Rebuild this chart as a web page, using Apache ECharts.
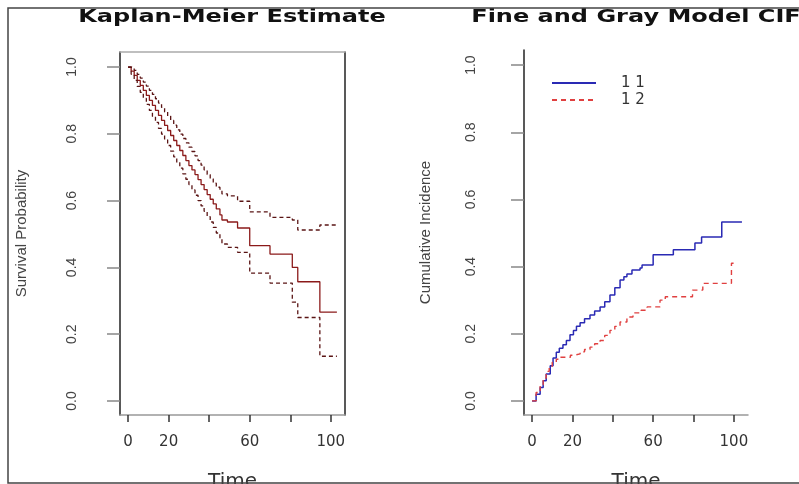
<!DOCTYPE html>
<html lang="en" style="height: 100%">
<head>
  <meta charset="utf-8">
  <title>Kaplan-Meier / Fine and Gray</title>
</head>
<body style="height: 100%; margin: 0; background: #fff">
  <div id="container" style="width: 799px; height: 484px"></div>

  <script type="text/javascript" src="https://cdn.jsdelivr.net/npm/echarts@6/dist/echarts.min.js"></script>
  <script type="text/javascript">
    // Kaplan-Meier estimate with confidence band
    var kmTime  = [0, 1.5, 3, 4.5, 6, 7.5, 9, 10.5, 12, 13.5, 15, 16.5, 18, 19.5, 21, 22.5, 24, 25.5, 27, 28.5, 30, 31.5, 33, 34.5, 36, 37.5, 39, 40.5, 42, 43.5, 45.3, 46.3, 49, 54, 60, 70, 81, 83.7, 94.6, 103];
    var kmSurv  = [1.0, 0.988, 0.975, 0.96, 0.945, 0.93, 0.915, 0.9, 0.885, 0.87, 0.855, 0.84, 0.825, 0.81, 0.795, 0.78, 0.765, 0.75, 0.735, 0.72, 0.705, 0.692, 0.678, 0.663, 0.648, 0.633, 0.618, 0.604, 0.59, 0.575, 0.557, 0.542, 0.536, 0.518, 0.465, 0.44, 0.40, 0.357, 0.266, 0.266];
    var kmUpper = [1.0, 0.998, 0.99, 0.978, 0.967, 0.955, 0.943, 0.93, 0.918, 0.905, 0.892, 0.879, 0.866, 0.853, 0.84, 0.826, 0.812, 0.799, 0.786, 0.773, 0.76, 0.747, 0.734, 0.72, 0.706, 0.692, 0.678, 0.665, 0.652, 0.64, 0.634, 0.62, 0.614, 0.598, 0.566, 0.55, 0.542, 0.512, 0.527, 0.527];
    var kmLower = [1.0, 0.978, 0.96, 0.942, 0.924, 0.906, 0.888, 0.87, 0.852, 0.834, 0.816, 0.799, 0.782, 0.765, 0.748, 0.731, 0.714, 0.697, 0.68, 0.664, 0.648, 0.632, 0.616, 0.6, 0.584, 0.568, 0.552, 0.536, 0.52, 0.503, 0.485, 0.47, 0.46, 0.445, 0.383, 0.353, 0.296, 0.25, 0.134, 0.134];

    // Fine and Gray cumulative incidence, groups "1 1" and "1 2"
    var cif1Time = [0, 2, 4, 5.5, 7, 9, 10.4, 12, 13.5, 15.3, 17, 18.8, 20.5, 22, 23.8, 26, 28.7, 31, 33.7, 36, 38.6, 41, 43.6, 45.5, 47, 49.5, 53.5, 54.5, 60, 70, 80.7, 84, 94, 104];
    var cif1Val  = [0, 0.02, 0.04, 0.06, 0.08, 0.105, 0.128, 0.145, 0.157, 0.167, 0.18, 0.197, 0.21, 0.222, 0.233, 0.245, 0.256, 0.268, 0.28, 0.295, 0.315, 0.337, 0.36, 0.37, 0.378, 0.39, 0.396, 0.405, 0.435, 0.45, 0.47, 0.488, 0.533, 0.533];
    var cif2Time = [0, 2, 4, 5.5, 7, 8.5, 10, 12, 14, 19, 21, 23.8, 26, 28.7, 31, 33.7, 36, 38.6, 41, 43.6, 47, 50, 54, 57, 63.4, 66, 79.5, 84.6, 98.8, 100];
    var cif2Val  = [0, 0.025, 0.048, 0.068, 0.088, 0.103, 0.115, 0.124, 0.13, 0.136, 0.14, 0.146, 0.153, 0.16, 0.17, 0.18, 0.195, 0.21, 0.222, 0.235, 0.25, 0.262, 0.27, 0.28, 0.30, 0.31, 0.33, 0.35, 0.41, 0.41];

    var groupNames = ['1 1', '1 2'];
    var xTicks = [0, 20, 40, 60, 80, 100];
    var xLabels = [0, 20, 60, 100];
    var yTicks = [0, 0.2, 0.4, 0.6, 0.8, 1.0];

    function pairs(t, v) {
      return t.map(function (x, i) { return [x, v[i]]; });
    }

    var dom = document.getElementById('container');
    var myChart = echarts.init(dom, null, { renderer: 'canvas' });

    function xAxisFor(grid, name) {
      return {
        type: 'value', gridIndex: grid, min: -4, max: 107,
        name: name, nameLocation: 'middle', nameGap: 57,
        nameTextStyle: { fontFamily: 'DejaVu Sans', fontSize: 20, color: '#333' },
        axisLine: { show: true, onZero: false, lineStyle: { color: '#999', width: 1.5 } },
        axisTick: { show: true, length: 7, customValues: xTicks, lineStyle: { color: '#333', width: 1.5 } },
        axisLabel: { customValues: xLabels, margin: 20, fontFamily: 'DejaVu Sans', fontSize: 15, color: '#333' },
        splitLine: { show: false }
      };
    }
    function yAxisFor(grid, name, margin) {
      return {
        type: 'value', gridIndex: grid, min: -0.042, max: 1.045,
        name: name, nameLocation: 'middle', nameRotate: 90, nameGap: 91,
        nameTextStyle: { fontFamily: 'Liberation Sans', fontSize: 15, color: '#444' },
        axisLine: { show: true, onZero: false, lineStyle: { color: '#222', width: 1.5 } },
        axisTick: { show: true, length: 13, customValues: yTicks, lineStyle: { color: '#888', width: 1.5 } },
        axisLabel: {
          customValues: yTicks, rotate: 90, margin: margin,
          fontFamily: 'Liberation Sans', fontSize: 14, color: '#444',
          formatter: function (v) { return v.toFixed(1); }
        },
        splitLine: { show: false }
      };
    }
    function frameAxis(type, grid, pos, color) {
      return {
        type: 'value', gridIndex: grid, position: pos,
        min: type === 'x' ? -4 : -0.042, max: type === 'x' ? 107 : 1.045,
        axisLine: { show: true, onZero: false, lineStyle: { color: color, width: 1.5 } },
        axisTick: { show: false }, axisLabel: { show: false }, splitLine: { show: false }
      };
    }

    var kmLine = { type: 'line', step: 'end', symbol: 'none', xAxisIndex: 0, yAxisIndex: 0 };

    var option = {
      animation: false,
      grid: [
        { left: 120, top: 52, width: 225, height: 363, outerBoundsMode: 'none' },
        { left: 524, top: 50, width: 224, height: 365, outerBoundsMode: 'none' }
      ],
      xAxis: [
        xAxisFor(0, 'Time'),
        frameAxis('x', 0, 'top', '#aaa'),
        xAxisFor(1, 'Time')
      ],
      yAxis: [
        yAxisFor(0, 'Survival Probability', 41),
        frameAxis('y', 0, 'right', '#222'),
        yAxisFor(1, 'Cumulative Incidence', 46)
      ],
      legend: {
        orient: 'vertical', left: 551, top: 75, padding: 0,
        itemWidth: 44, itemHeight: 12, itemGap: 1,
        itemStyle: { opacity: 0 },
        data: groupNames,
        textStyle: { fontFamily: 'DejaVu Sans', fontSize: 15, lineHeight: 16, color: '#333', padding: [0, 0, 0, 20] }
      },
      series: [
        Object.assign({}, kmLine, { name: 'km', data: pairs(kmTime, kmSurv), lineStyle: { color: '#8b1a1a', width: 1.3 } }),
        Object.assign({}, kmLine, { name: 'upper', data: pairs(kmTime, kmUpper), lineStyle: { color: '#5a1414', width: 1.3, type: [4, 3] } }),
        Object.assign({}, kmLine, { name: 'lower', data: pairs(kmTime, kmLower), lineStyle: { color: '#5a1414', width: 1.3, type: [4, 3] } }),
        {
          name: groupNames[0], type: 'line', step: 'end', symbol: 'none', xAxisIndex: 2, yAxisIndex: 2,
          data: pairs(cif1Time, cif1Val), itemStyle: { color: '#2a2ab4' }, lineStyle: { color: '#2a2ab4', width: 1.5 }
        },
        {
          name: groupNames[1], type: 'line', step: 'end', symbol: 'none', xAxisIndex: 2, yAxisIndex: 2,
          data: pairs(cif2Time, cif2Val), itemStyle: { color: '#e04040' }, lineStyle: { color: '#e04040', width: 1.4, type: [5, 4] }
        }
      ],
      graphic: [
        // titles are squashed a little: the source picture is stretched sideways and cut at the top
        { type: 'text', z: 1, x: 232, y: 26, scaleY: 0.77, style: { text: 'Kaplan-Meier Estimate', font: 'bold 24px "DejaVu Sans"', fill: '#111', align: 'center', verticalAlign: 'bottom' } },
        { type: 'text', z: 1, x: 636, y: 26, scaleY: 0.77, style: { text: 'Fine and Gray Model CIF', font: 'bold 24px "DejaVu Sans"', fill: '#111', align: 'center', verticalAlign: 'bottom' } },
        { type: 'rect', z: 10, zlevel: 1, shape: { x: 0, y: 0, width: 799, height: 8 }, style: { fill: '#ffffff' } },
        { type: 'polyline', z: 11, zlevel: 1, shape: { points: [[799, 8], [8, 8], [8, 483], [799, 483]] }, style: { stroke: '#444', lineWidth: 1.5, fill: null } }
      ]
    };

    myChart.setOption(option);
    window.addEventListener('resize', myChart.resize);
  </script>
</body>
</html>
